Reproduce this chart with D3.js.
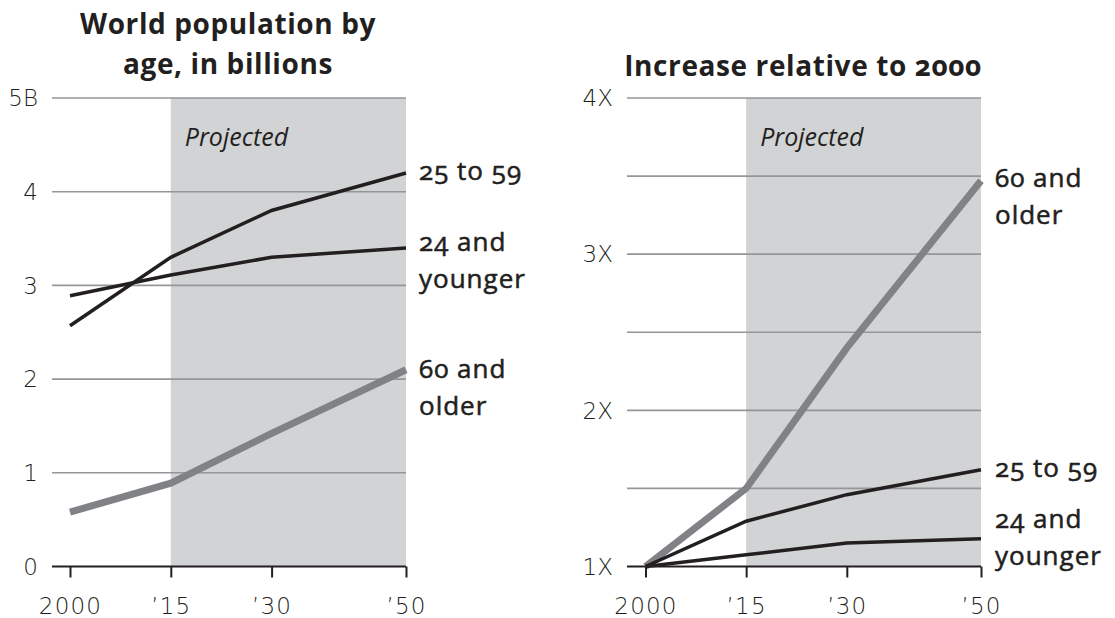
<!DOCTYPE html>
<html>
<head>
<meta charset="utf-8">
<script src="https://cdn.jsdelivr.net/npm/d3@7"></script>
<style>
  html, body { margin: 0; padding: 0; background: #ffffff; }
  svg { display: block; }
  .title { font-family: "Open Sans", sans-serif; font-weight: 700; font-size: 28px; fill: #231f20; letter-spacing: 0.6px; font-variant-numeric: oldstyle-nums; }
  .tick-label { font-family: "DejaVu Sans", sans-serif; font-weight: 200; font-size: 23px; fill: #231f20; }
  .series-label { font-family: "Open Sans", sans-serif; font-weight: 400; font-size: 26px; fill: #231f20; stroke: #231f20; stroke-width: 0.55px; letter-spacing: 1px; font-variant-numeric: oldstyle-nums; }
  .projected { font-family: "Open Sans", sans-serif; font-style: italic; font-size: 25px; fill: #231f20; }
</style>
</head>
<body>
<svg id="chart" width="1115" height="618"></svg>
<script>
// Years and x-axis tick labels
const years = [2000, 2015, 2030, 2050];
const yearLabels = ["2000", "\u201915", "\u201930", "\u201950"];
const projectionStart = 2015;

// World population by age, in billions
const popYoung = [2.89, 3.11, 3.30, 3.40];   // 24 and younger
const popMiddle = [2.57, 3.30, 3.80, 4.20];  // 25 to 59
const popOld = [0.58, 0.89, 1.42, 2.10];     // 60 and older
const popGrid = [0, 1, 2, 3, 4, 5];
const popTickLabels = ["0", "1", "2", "3", "4", "5B"];

// Increase relative to 2000
const relYoung = [1, 1.075, 1.15, 1.177];
const relMiddle = [1, 1.29, 1.46, 1.62];
const relOld = [1, 1.5, 2.4, 3.47];
const relGrid = [1, 1.5, 2, 2.5, 3, 3.5, 4];
const relTicks = [1, 2, 3, 4];
const relTickLabels = ["1X", "2X", "3X", "4X"];

const svg = d3.select("#chart");

const COLORS = { dark: "#231f20", old: "#808285", grid: "#949699", shade: "#d1d3d4" };

function drawPanel(p) {
  const g = svg.append("g");
  const x = d3.scaleLinear().domain([years[0], years[years.length - 1]]).range([p.x0, p.x1]);
  const y = d3.scaleLinear().domain(p.yDomain).range([p.yBottom, p.yTop]);

  // projection shading
  g.append("rect")
    .attr("x", x(projectionStart)).attr("y", y(p.yDomain[1]))
    .attr("width", x(years[years.length - 1]) - x(projectionStart))
    .attr("height", y(p.yDomain[0]) - y(p.yDomain[1]))
    .attr("fill", COLORS.shade);

  // horizontal gridlines
  g.selectAll("line.grid").data(p.grid.slice(1)).join("line")
    .attr("class", "grid")
    .attr("x1", p.gridLeft).attr("x2", p.x1)
    .attr("y1", d => y(d)).attr("y2", d => y(d))
    .attr("stroke", COLORS.grid).attr("stroke-width", 1.6);

  // y tick labels
  g.selectAll("text.ylab").data(p.ticks).join("text")
    .attr("class", "tick-label ylab")
    .attr("x", p.gridLeft - 14).attr("y", d => y(d))
    .attr("dy", "0.36em").attr("text-anchor", "end")
    .text((d, i) => p.tickLabels[i]);

  // x axis with ticks
  const axis = d3.axisBottom(x).tickValues(years).tickSize(11).tickFormat((d, i) => yearLabels[i]);
  const ax = g.append("g").attr("transform", `translate(0,${p.yBottom})`).call(axis);
  ax.select(".domain").remove();
  ax.selectAll(".tick line").attr("stroke", COLORS.dark).attr("stroke-width", 2);
  ax.selectAll(".tick text")
    .attr("class", "tick-label").attr("y", 31).attr("dy", "0.71em")
    .style("letter-spacing", "1.2px");
  g.append("line")
    .attr("x1", p.gridLeft).attr("x2", p.x1)
    .attr("y1", p.yBottom).attr("y2", p.yBottom)
    .attr("stroke", COLORS.dark).attr("stroke-width", 2);

  // "Projected" note
  g.append("text").attr("class", "projected")
    .attr("x", x(projectionStart) + 14).attr("y", p.projY)
    .text("Projected");

  const line = d3.line().x((d, i) => x(years[i])).y(d => y(d));
  p.series.forEach(s => {
    g.append("path").datum(s.values)
      .attr("d", line).attr("fill", "none")
      .attr("stroke", s.color).attr("stroke-width", s.width)
      .attr("stroke-linejoin", "miter");
  });

  // end-of-line labels
  p.series.forEach(s => {
    const last = s.values[s.values.length - 1];
    const t = g.append("text").attr("class", "series-label")
      .attr("x", p.x1 + p.labelGap).attr("y", y(last) + s.labelDy);
    s.label.forEach((ln, i) => {
      t.append("tspan").attr("x", p.x1 + p.labelGap).attr("dy", i === 0 ? 0 : 37).text(ln);
    });
  });

  // title
  const tt = g.append("text").attr("class", "title").attr("text-anchor", "middle")
    .attr("x", p.titleX).attr("y", p.titleY);
  p.title.forEach((ln, i) => {
    tt.append("tspan").attr("x", p.titleX).attr("dy", i === 0 ? 0 : 40).text(ln);
  });
}

drawPanel({
  x0: 70, x1: 406, gridLeft: 52, yTop: 98, yBottom: 566.5,
  yDomain: [0, 5], grid: popGrid, ticks: popGrid, tickLabels: popTickLabels,
  projY: 146, labelGap: 13,
  title: ["World population by", "age, in billions"], titleX: 228, titleY: 34,
  series: [
    { values: popOld, color: COLORS.old, width: 7, label: ["60 and", "older"], labelDy: 8 },
    { values: popMiddle, color: COLORS.dark, width: 3.5, label: ["25 to 59"], labelDy: 7 },
    { values: popYoung, color: COLORS.dark, width: 3.5, label: ["24 and", "younger"], labelDy: 3 }
  ]
});

drawPanel({
  x0: 645.5, x1: 981, gridLeft: 627, yTop: 98, yBottom: 566.5,
  yDomain: [1, 4], grid: relGrid, ticks: relTicks, tickLabels: relTickLabels,
  projY: 146, labelGap: 14,
  title: ["Increase relative to 2000"], titleX: 803, titleY: 76,
  series: [
    { values: relOld, color: COLORS.old, width: 7, label: ["60 and", "older"], labelDy: 6 },
    { values: relMiddle, color: COLORS.dark, width: 3.5, label: ["25 to 59"], labelDy: 7 },
    { values: relYoung, color: COLORS.dark, width: 3.5, label: ["24 and", "younger"], labelDy: -11 }
  ]
});
</script>
</body>
</html>
